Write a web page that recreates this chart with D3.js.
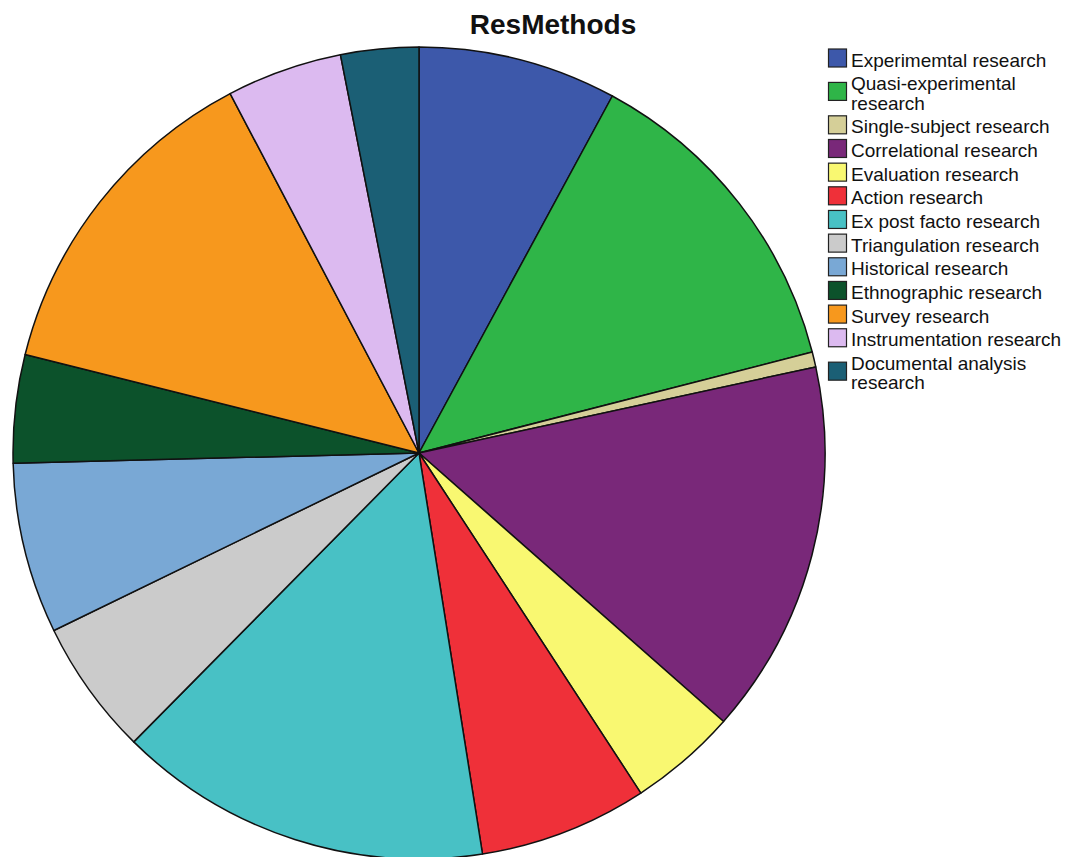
<!DOCTYPE html>
<html>
<head>
<meta charset="utf-8">
<script src="https://cdn.jsdelivr.net/npm/d3@7"></script>
<style>
  html, body { margin: 0; padding: 0; background: #ffffff; }
  svg { display: block; }
  text { font-family: "Liberation Sans", Arial, sans-serif; }
</style>
</head>
<body>
<svg id="chart" width="1069" height="857"></svg>
<script>
// Research methods share (percent of studies)
const categories = [
  "Experimemtal research",
  "Quasi-experimental research",
  "Single-subject research",
  "Correlational research",
  "Evaluation research",
  "Action research",
  "Ex post facto research",
  "Triangulation research",
  "Historical research",
  "Ethnographic research",
  "Survey research",
  "Instrumentation research",
  "Documental analysis research"
];
const values = [7.9, 13.1, 0.6, 14.9, 4.3, 6.7, 14.9, 5.4, 6.8, 4.3, 13.4, 4.6, 3.1];
const colors = [
  "#3d58aa", "#2fb548", "#d5cf98", "#792879", "#f9f871", "#ef3039", "#48c1c5",
  "#cbcbcb", "#79a8d5", "#0c522b", "#f7981d", "#dcbaf0", "#1b5f75"
];
// legend labels wrap onto two lines for the longer names
const legendLines = [
  ["Experimemtal research"],
  ["Quasi-experimental", "research"],
  ["Single-subject research"],
  ["Correlational research"],
  ["Evaluation research"],
  ["Action research"],
  ["Ex post facto research"],
  ["Triangulation research"],
  ["Historical research"],
  ["Ethnographic research"],
  ["Survey research"],
  ["Instrumentation research"],
  ["Documental analysis", "research"]
];

const svg = d3.select("#chart");
const cx = 419, cy = 453, radius = 406;

const data = categories.map((c, i) => ({ name: c, value: values[i], color: colors[i] }));

const pie = d3.pie().value(d => d.value).sort(null).startAngle(0).endAngle(2 * Math.PI);
const arc = d3.arc().innerRadius(0).outerRadius(radius);

const g = svg.append("g").attr("transform", `translate(${cx},${cy})`);
g.selectAll("path.slice")
  .data(pie(data))
  .join("path")
  .attr("class", "slice")
  .attr("d", arc)
  .attr("fill", d => d.data.color)
  .attr("stroke", "#111")
  .attr("stroke-width", 1.5)
  .attr("stroke-linejoin", "round");

// title
svg.append("text")
  .attr("x", 553)
  .attr("y", 34)
  .attr("text-anchor", "middle")
  .attr("font-size", 28)
  .attr("font-weight", "bold")
  .attr("fill", "#111")
  .text("ResMethods");

// legend
const legend = svg.append("g").attr("class", "legend");
const pitch = 23.66, lineH = 19.5, sw = 19;
let center = 58.5;
legendLines.forEach((lines, i) => {
  if (i > 0) {
    const extraPrev = legendLines[i - 1].length - 1;
    const extraCur = lines.length - 1;
    center += pitch + (extraPrev + extraCur) * lineH / 2;
  }
  const item = legend.append("g");
  item.append("rect")
    .attr("x", 828.5)
    .attr("y", center - sw / 2)
    .attr("width", sw - 1)
    .attr("height", sw - 1)
    .attr("fill", colors[i])
    .attr("stroke", "#222")
    .attr("stroke-width", 1.2);
  const firstBaseline = center + 8 - (lines.length - 1) * lineH / 2;
  lines.forEach((ln, k) => {
    item.append("text")
      .attr("x", 851)
      .attr("y", firstBaseline + k * lineH)
      .attr("font-size", 19)
      .attr("fill", "#111")
      .text(ln);
  });
});
</script>
</body>
</html>
